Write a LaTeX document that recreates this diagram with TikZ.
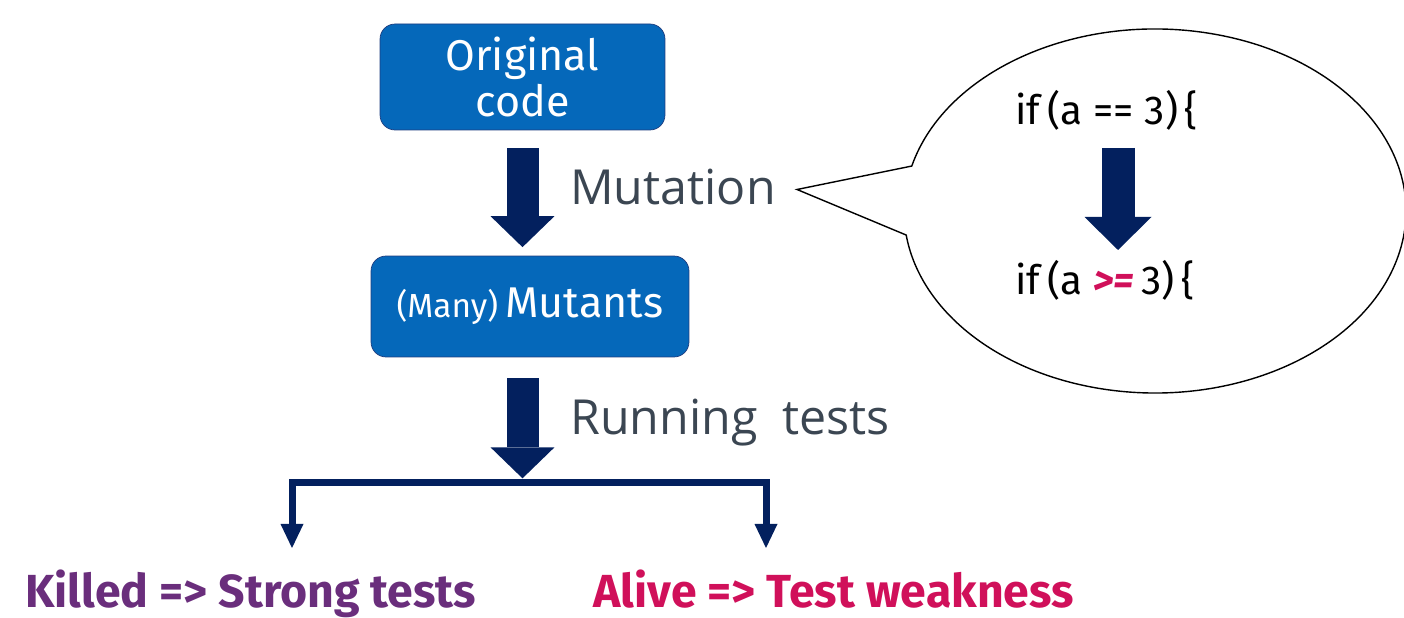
\documentclass[tikz,border=0pt]{standalone}
\usepackage{fontspec}
\setmainfont{Fira Sans}
\newfontfamily\labelfont{Open Sans}
\usetikzlibrary{arrows.meta,positioning}
\definecolor{boxblue}{HTML}{0568BA}
\definecolor{boxedge}{HTML}{1F3D7F}
\definecolor{navy}{HTML}{03205E}
\definecolor{labelgray}{HTML}{3B4652}
\definecolor{killpurple}{HTML}{6A2E7C}
\definecolor{alivered}{HTML}{D0105A}

\begin{document}
\begin{tikzpicture}[
	x=0.02cm, y=0.02cm,
	stepbox/.style = {
		draw=boxedge, fill=boxblue,
		rounded corners=0.3cm,
		text=white, align=center,
		font=\fontsize{24.5}{26.7}\selectfont,
	},
	steplabel/.style = {
		anchor=base west, inner sep=0pt,
		text=labelgray,
		font=\labelfont\fontsize{27.5}{30}\selectfont,
	},
	codeline/.style = {
		anchor=base west, inner sep=0pt,
		font=\fontsize{23}{25}\selectfont,
	},
	outcome/.style = {
		anchor=base west, inner sep=0pt,
		font=\bfseries\fontsize{26.4}{28}\selectfont,
	},
	blockarrow/.style = {
		draw=navy, line width=0.64cm,
		-{Triangle[length=0.62cm,width=1.28cm,line width=0pt]},
	},
	branch/.style = {
		draw=navy, line width=0.14cm,
		-{Triangle[length=0.48cm,width=0.46cm,line width=0pt]},
	},
]
\useasboundingbox (0,0) rectangle (1404,618);

% main flow
\node [stepbox, minimum width=5.7cm, minimum height=2.12cm] (orig) at (522.5,541) {Original\\code};
\node [stepbox, minimum width=6.36cm, minimum height=2.02cm] (mutants) at (530,311.5)
	{{\fontsize{19}{21}\selectfont(Many)}\,Mutants};

\draw [blockarrow] ([yshift=-0.36cm]orig.south) -- ([yshift=0.17cm]orig.south |- mutants.north);
\node [steplabel] (mutlabel) at (570,413) {Mutation};

\draw [blockarrow] ([yshift=-0.42cm]orig.south |- mutants.south) -- ++(0,-100) coordinate (split);
\node [steplabel] (runlabel) at (570,183) {Running\ \ tests};

% outcomes
\node [outcome, text=killpurple] (killed) at (25,10) {Killed => Strong tests};
\node [outcome, text=alivered] (alive) at (593,10) {Alive => Test weakness};
\coordinate (killtip) at (292,70);
\coordinate (alivetip) at (766,70);
\draw [branch] ([yshift=-0.08cm]split) -| (killtip);
\draw [branch] ([yshift=-0.08cm]split) -| (alivetip);

% callout with the example mutation
\coordinate (bubble) at (1155,407);
\coordinate (tail) at ([xshift=0.42cm,yshift=-0.04cm]mutlabel.east);
\draw [line width=0.8pt] (tail) -- ([shift={(165.7:251 and 182)}]bubble)
	arc [start angle=165.7, end angle=-172.4, x radius=251, y radius=182] -- cycle;
\node [codeline] (before) at (1015,493) {if\,(a\;==\;3)\,\{};
\node [codeline] (after) at (1015,323)
	{if\,(a\;{\color{alivered}\bfseries\itshape >=}\,3)\,\{};
\coordinate (mutfrom) at (1118,470);
\coordinate (mutto) at (1118,368);
\draw [blockarrow, line width=0.66cm,
	-{Triangle[length=0.66cm,width=1.34cm,line width=0pt]}] (mutfrom) -- (mutto);

\end{tikzpicture}
\end{document}
